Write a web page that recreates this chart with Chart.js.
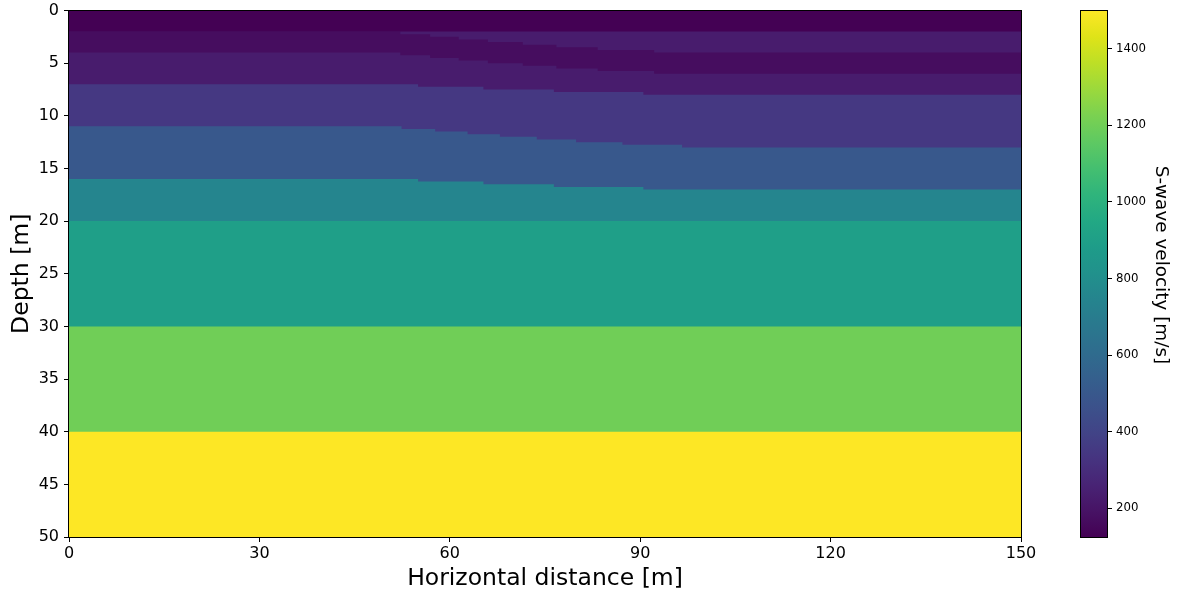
<!DOCTYPE html>
<html>
<head>
<meta charset="utf-8">
<title>S-wave velocity model</title>
<script src="https://cdn.jsdelivr.net/npm/chart.js@4.4.1/dist/chart.umd.min.js"></script>
<style>
    body { margin: 0; background: #fff; }
    #wrap { position: relative; width: 1182px; height: 590px; }
    canvas { position: absolute; top: 0; }
</style>
</head>
<body>
<div id="wrap">
    <canvas id="modelChart" width="1182" height="590" style="left:0"></canvas>
    <canvas id="colorbarChart" width="142" height="590" style="left:1040px"></canvas>
</div>
<script>
// Bottom of each layer: depth (m) holds from each x (m) until the next x
const xFlat = [0, 150];
const xUpper = [0, 52.2, 56.9, 61.4, 66.0, 71.5, 76.8, 83.3, 92.2, 150];
const xMiddle = [0, 55.0, 65.3, 76.4, 90.5, 150];
const xLower = [0, 52.4, 57.7, 62.8, 67.9, 73.7, 79.9, 87.2, 96.6, 150];

const depthLayer1 = [2, 2];
const depthInsert = [2, 2.25, 2.5, 2.75, 3, 3.25, 3.5, 3.75, 4, 4];
const depthLayer2 = [4, 4.25, 4.5, 4.75, 5, 5.25, 5.5, 5.75, 6, 6];
const depthLayer3 = [7, 7.25, 7.5, 7.75, 8, 8];
const depthLayer4 = [11, 11.25, 11.5, 11.75, 12, 12.25, 12.5, 12.75, 13, 13];
const depthLayer5 = [16, 16.25, 16.5, 16.75, 17, 17];
const depthLayer6 = [20, 20];
const depthLayer7 = [30, 30];
const depthLayer8 = [40, 40];
const depthLayer9 = [50, 50];

// S-wave velocity of each layer (m/s), top to bottom
const layerVelocity = [125, 230, 170, 230, 350, 500, 750, 900, 1200, 1500];

const distanceTicks = [0, 30, 60, 90, 120, 150];
const depthTicks = [0, 5, 10, 15, 20, 25, 30, 35, 40, 45, 50];
const velocityTicks = [200, 400, 600, 800, 1000, 1200, 1400];
const velocityMin = 125;
const velocityMax = 1500;

const layerBottoms = [
    [xFlat, depthLayer1],
    [xUpper, depthInsert],
    [xUpper, depthLayer2],
    [xMiddle, depthLayer3],
    [xLower, depthLayer4],
    [xMiddle, depthLayer5],
    [xFlat, depthLayer6],
    [xFlat, depthLayer7],
    [xFlat, depthLayer8],
    [xFlat, depthLayer9]
];

const viridisStops = [
    '#440154', '#471365', '#482475', '#463480', '#414487', '#3b528b', '#355f8d',
    '#2f6c8e', '#2a788e', '#25848e', '#21918c', '#1e9c89', '#22a884', '#2fb47c',
    '#44bf70', '#5ec962', '#7ad151', '#9bd93c', '#bddf26', '#dfe318', '#fde725'
];

const FONT = 'DejaVu Sans';

/**
 * Map a velocity to a viridis colour
 */
function velocityColor(v) {
    let t = (v - velocityMin) / (velocityMax - velocityMin);
    t = Math.max(0, Math.min(1, t));
    const n = viridisStops.length - 1;
    const i = Math.min(Math.floor(t * n), n - 1);
    const f = t * n - i;
    const a = hexToRgb(viridisStops[i]);
    const b = hexToRgb(viridisStops[i + 1]);
    const c = a.map((val, k) => Math.round(val + (b[k] - val) * f));
    return `rgb(${c[0]}, ${c[1]}, ${c[2]})`;
}

function hexToRgb(hex) {
    return [1, 3, 5].map(k => parseInt(hex.substr(k, 2), 16));
}

// Black frame around the plotting area (matplotlib spines)
const framePlugin = {
    id: 'frame',
    afterDatasetsDraw(chart) {
        const { ctx, chartArea } = chart;
        const x0 = Math.round(chartArea.left) - 0.5;
        const y0 = Math.floor(chartArea.top) + 0.5;
        const x1 = Math.round(chartArea.right) + 0.5;
        const y1 = Math.round(chartArea.bottom) + 0.5;
        ctx.save();
        ctx.strokeStyle = '#000';
        ctx.lineWidth = 1;
        ctx.strokeRect(x0, y0, x1 - x0, y1 - y0);
        ctx.restore();
    }
};

// Colour ramp inside the colour bar
const colorRampPlugin = {
    id: 'colorRamp',
    beforeDatasetsDraw(chart) {
        const { ctx, chartArea } = chart;
        const scale = chart.scales.y;
        const yMin = scale.getPixelForValue(velocityMin);
        const yMax = scale.getPixelForValue(velocityMax);
        const grad = ctx.createLinearGradient(0, yMin, 0, yMax);
        viridisStops.forEach((c, i) => grad.addColorStop(i / (viridisStops.length - 1), c));
        ctx.save();
        ctx.fillStyle = grad;
        ctx.fillRect(chartArea.left, chartArea.top, chartArea.right - chartArea.left, chartArea.bottom - chartArea.top);
        ctx.restore();
    }
};

function createModelChart() {
    const ctx = document.getElementById('modelChart');

    const datasets = layerBottoms.map(([xs, depths], i) => {
        const color = velocityColor(layerVelocity[i]);
        return {
            label: `Layer ${i + 1}`,
            data: xs.map((x, k) => ({ x: x, y: depths[k] })),
            stepped: true,
            fill: { value: 0 },
            backgroundColor: color,
            borderColor: 'rgba(0, 0, 0, 0)',
            borderWidth: 0,
            pointRadius: 0
        };
    });

    new Chart(ctx, {
        type: 'line',
        data: { datasets: datasets },
        plugins: [framePlugin],
        options: {
            responsive: false,
            animation: false,
            layout: { padding: { left: 0, top: 10.5, right: 161, bottom: 0 } },
            plugins: {
                legend: { display: false },
                tooltip: { enabled: false }
            },
            scales: {
                x: {
                    type: 'linear',
                    min: 0,
                    max: 150,
                    afterBuildTicks: scale => { scale.ticks = distanceTicks.map(v => ({ value: v })); },
                    afterFit: scale => {
                        scale.height = 53;
                        scale.paddingLeft = 0;
                        scale.paddingRight = 0;
                    },
                    border: { display: false },
                    grid: { drawOnChartArea: false, drawTicks: true, tickLength: 5, color: '#000' },
                    ticks: {
                        color: '#000',
                        padding: 2,
                        maxRotation: 0,
                        font: { family: FONT, size: 16 }
                    },
                    title: {
                        display: true,
                        text: 'Horizontal distance [m]',
                        color: '#000',
                        padding: { top: 0, bottom: 0 },
                        font: { family: FONT, size: 23.5, lineHeight: 0.95 }
                    }
                },
                y: {
                    type: 'linear',
                    reverse: true,
                    min: 0,
                    max: 50,
                    afterBuildTicks: scale => { scale.ticks = depthTicks.map(v => ({ value: v })); },
                    afterFit: scale => {
                        scale.width = 69;
                        scale.paddingTop = 0;
                        scale.paddingBottom = 0;
                    },
                    border: { display: false },
                    grid: { drawOnChartArea: false, drawTicks: true, tickLength: 5, color: '#000' },
                    ticks: {
                        color: '#000',
                        padding: 5,
                        font: { family: FONT, size: 16 }
                    },
                    title: {
                        display: true,
                        text: 'Depth [m]',
                        color: '#000',
                        padding: { top: 8, bottom: 0 },
                        font: { family: FONT, size: 23.5 }
                    }
                }
            }
        }
    });
}

function createColorbarChart() {
    const ctx = document.getElementById('colorbarChart');

    new Chart(ctx, {
        type: 'scatter',
        data: { datasets: [] },
        plugins: [colorRampPlugin, framePlugin],
        options: {
            responsive: false,
            animation: false,
            layout: { padding: { left: 41, top: 10.5, right: 0, bottom: 53 } },
            plugins: {
                legend: { display: false },
                tooltip: { enabled: false }
            },
            scales: {
                x: { display: false },
                y: {
                    type: 'linear',
                    position: 'right',
                    min: velocityMin,
                    max: velocityMax,
                    afterBuildTicks: scale => { scale.ticks = velocityTicks.map(v => ({ value: v })); },
                    afterFit: scale => {
                        scale.width = 75;
                        scale.paddingTop = 0;
                        scale.paddingBottom = 0;
                    },
                    border: { display: false },
                    grid: { drawOnChartArea: false, drawTicks: true, tickLength: 5, color: '#000' },
                    ticks: {
                        color: '#000',
                        padding: 4,
                        font: { family: FONT, size: 11.75 },
                        callback: value => String(value)
                    },
                    title: {
                        display: true,
                        text: 'S-wave velocity [m/s]   ',
                        color: '#000',
                        padding: { top: 10, bottom: 0 },
                        font: { family: FONT, size: 18.4 }
                    }
                }
            }
        }
    });
}

createModelChart();
createColorbarChart();
</script>
</body>
</html>
